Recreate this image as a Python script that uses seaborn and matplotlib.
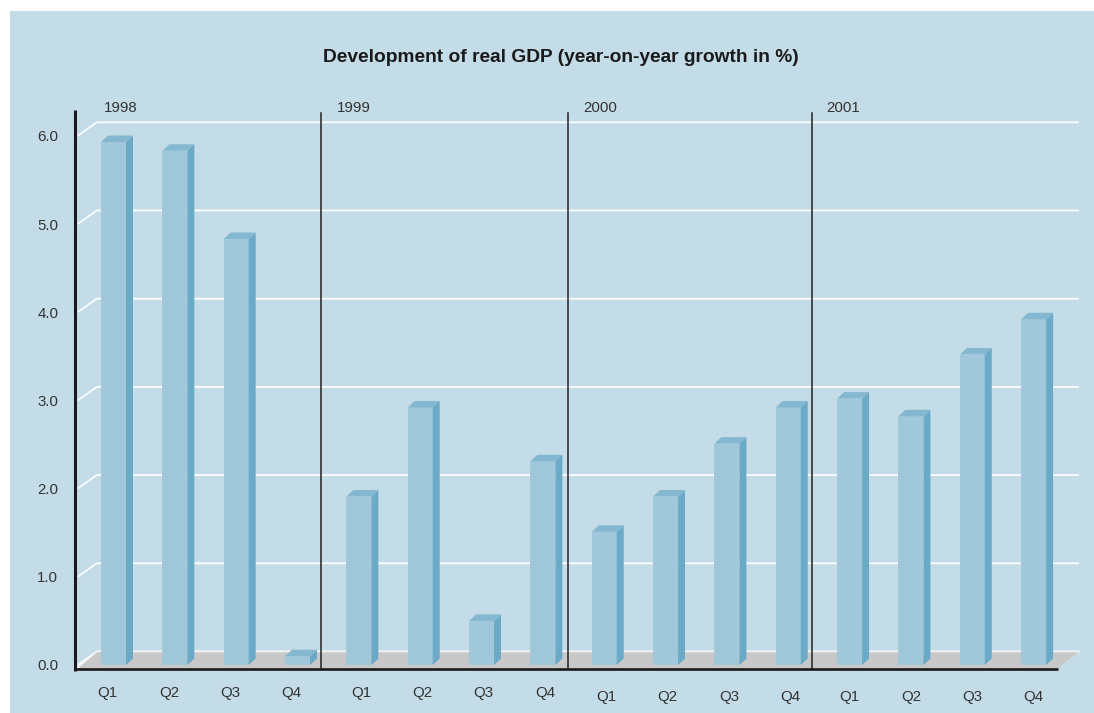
import matplotlib
matplotlib.use("Agg")
import matplotlib.pyplot as plt
from matplotlib.patches import Polygon, Rectangle
import seaborn as sns
import pandas as pd
import numpy as np

# ---- data ----
years = ["1998", "1999", "2000", "2001"]
quarters = ["Q1", "Q2", "Q3", "Q4"]
gdp_1998 = [5.93, 5.83, 4.83, 0.1]
gdp_1999 = [1.91, 2.92, 0.5, 2.31]
gdp_2000 = [1.51, 1.91, 2.51, 2.92]
gdp_2001 = [3.02, 2.82, 3.52, 3.92]
y_ticks = [0.0, 1.0, 2.0, 3.0, 4.0, 5.0, 6.0]
title = "Development of real GDP (year-on-year growth in %)"

values = gdp_1998 + gdp_1999 + gdp_2000 + gdp_2001
df = pd.DataFrame({
    "year": np.repeat(years, 4),
    "quarter": quarters * 4,
    "growth": values,
})
df["key"] = df["year"] + " " + df["quarter"]

# ---- colours ----
BG = "#c4dce7"
FRONT = "#a0c8da"
SIDE = "#6aaac7"
TOP = "#84b8d0"
FLOOR = "#c8c8c8"
TXT = "#333333"
FS = 10.8

W, H = 1094, 713
fig = plt.figure(figsize=(W / 100, H / 100), dpi=100, facecolor="white")
fig.patches.append(Rectangle((10 / W, 0), 1, (H - 11) / H, transform=fig.transFigure,
                             facecolor=BG, edgecolor="none", zorder=-5))

# axes covers pixel x 75..1079, y 112..700
ax = fig.add_axes([75 / W, (H - 700) / H, 1004 / W, 588 / H])
ax.set_facecolor("none")
PXX = 61.34   # px per category
PXY = 88.2    # px per unit
x0px, y0px = 113.5, 665.0

def dx(px):
    return px / PXX

def dy(px):
    return px / PXY

def xd(px):
    return (px - x0px) / PXX

def yd(px):
    return (y0px - px) / PXY

bar_w = 25 / PXX
sns.barplot(data=df, x="key", y="growth", order=list(df["key"]), color=FRONT,
            saturation=1, width=bar_w, ax=ax, zorder=3, edgecolor="none", linewidth=0)

ax.set_xlim(xd(75), xd(1079))
ax.set_ylim(yd(700), yd(112))

# back-wall gridlines
gdx, gdy = dx(19), dy(13.5)
xl_front = xd(77.7)
for v in y_ticks:
    ax.plot([xl_front, xl_front + gdx, xd(1079)], [v, v + gdy, v + gdy],
            color="white", lw=1.2, zorder=1, solid_capstyle="butt", clip_on=False)

# floor
fy0 = yd(668.5)
fy1 = gdy
floor = Polygon([[xd(77), fy0], [xd(1057.7), fy0], [xd(1079), fy1], [xd(96.7), fy1]],
                closed=True, facecolor=FLOOR, edgecolor="none", zorder=2, clip_on=False)
ax.add_patch(floor)
ax.plot([xl_front, xl_front + gdx, xd(1079)], [fy0 + 0.01, fy1, fy1],
        color="#f4f4f4", lw=1.1, zorder=2.5, clip_on=False)

# 3D faces of bars
bdx, bdy = dx(7), dy(6.5)
for p in list(ax.patches):
    if not isinstance(p, Rectangle):
        continue
    x, y, w, h = p.get_x(), p.get_y(), p.get_width(), p.get_height()
    if w <= 0 or abs(w - bar_w) > 1e-6:
        continue
    xr, top = x + w, y + h
    ax.add_patch(Polygon([[xr, y], [xr, top], [xr + bdx, top + bdy], [xr + bdx, y + bdy]],
                         closed=True, facecolor=SIDE, edgecolor="none", zorder=3))
    ax.add_patch(Polygon([[x, top], [xr, top], [xr + bdx, top + bdy], [x + bdx, top + bdy]],
                         closed=True, facecolor=TOP, edgecolor="none", zorder=3))

# year separators
for sx in [xd(321), xd(567.5), xd(812)]:
    ax.plot([sx, sx], [yd(669), yd(113)], color="#222222", lw=1.1, zorder=4, clip_on=False)

# axis lines
ax.plot([xd(75), xd(75)], [yd(670.5), yd(110)], color="#1a1a1a", lw=2.2, zorder=5,
        clip_on=False, solid_capstyle="butt")
ax.plot([xd(74), xd(1057.7)], [yd(669.3), yd(669.3)], color="#1a1a1a", lw=1.9, zorder=5,
        clip_on=False, solid_capstyle="butt")

# year labels
for ytxt, px in zip(years, [104, 336.5, 583, 826]):
    ax.text(xd(px), yd(108), ytxt, ha="left", va="center", fontsize=FS, color=TXT,
            family="Liberation Sans")

# quarter labels
lab_dx = {"1998": -6, "1999": 2, "2000": 2, "2001": 0}
lab_y = {"1998": 693, "1999": 693, "2000": 697, "2001": 697}
for i, (yr, q) in enumerate(zip(df["year"], df["quarter"])):
    ax.text(i + dx(lab_dx[yr]), yd(lab_y[yr]), q, ha="center", va="center",
            fontsize=FS, color=TXT, family="Liberation Sans")

ax.set_xticks([])
ax.set_xlabel("")
ax.set_ylabel("")
ax.set_yticks(y_ticks)
ax.set_yticklabels([f"{v:.1f}" for v in y_ticks], family="Liberation Sans",
                   fontsize=FS, color=TXT)
ax.tick_params(axis="y", length=0, pad=12)
for s in ax.spines.values():
    s.set_visible(False)
ax.grid(False)

fig.text(561 / W, 1 - 57 / H, title, ha="center", va="center", fontsize=13.8,
         fontweight="heavy", family="Liberation Sans", color="#1a1a1a")

fig.savefig("out.png", dpi=100, facecolor="white")
